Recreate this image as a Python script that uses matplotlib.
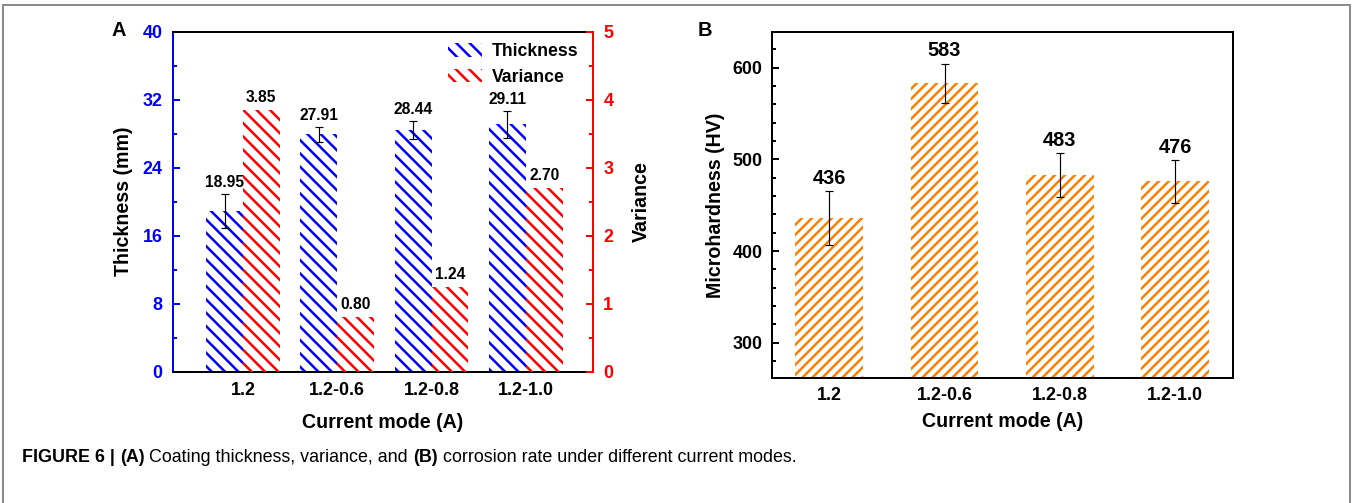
import matplotlib
matplotlib.use("Agg")
import matplotlib.pyplot as plt
import numpy as np
from matplotlib.ticker import MultipleLocator
from matplotlib.lines import Line2D

# ---------------- data ----------------
categories = ["1.2", "1.2-0.6", "1.2-0.8", "1.2-1.0"]
thickness = [18.95, 27.91, 28.44, 29.11]
thickness_err = [2.0, 0.9, 1.1, 1.6]
variance = [3.85, 0.80, 1.24, 2.70]
thickness_labels = ["18.95", "27.91", "28.44", "29.11"]
variance_labels = ["3.85", "0.80", "1.24", "2.70"]
hardness = [436, 583, 483, 476]
hardness_err = [29.5, 21.5, 24, 23.5]
hardness_labels = ["436", "583", "483", "476"]

caption_parts = [("FIGURE 6 | ", "bold"), ("(A)", "bold"),
                 (" Coating thickness, variance, and ", "normal"),
                 ("(B)", "bold"),
                 (" corrosion rate under different current modes.", "normal")]

# ---------------- style ----------------
DPI = 120
W, H = 1355, 503
plt.rcParams["font.family"] = ["Liberation Sans", "DejaVu Sans"]
plt.rcParams["font.weight"] = "bold"
plt.rcParams["hatch.linewidth"] = 1.5

BLUE = "#0000FF"
RED = "#FF0000"
ORANGE = "#FF8000"

fig = plt.figure(figsize=(W / DPI, H / DPI), dpi=DPI)

def ax_rect(x0, y0, x1, y1):
    return [x0 / W, 1 - y1 / H, (x1 - x0) / W, (y1 - y0) / H]

TICK_FS = 10.7
LAB_FS = 11.8
ANN_FS = 9.4

# ---------------- panel A ----------------
ax = fig.add_axes(ax_rect(172.7, 31.7, 593.3, 371.7))
ax2 = ax.twinx()
x = np.arange(len(categories))
bw = 0.39

ax.bar(x - bw / 2, thickness, bw, facecolor="none", edgecolor=BLUE,
       hatch="\\\\\\", linewidth=0, label="Thickness")
ax.errorbar(x - bw / 2, thickness, yerr=thickness_err, fmt="none",
            ecolor="black", elinewidth=0.7, capsize=2.3, capthick=0.7)
ax2.bar(x + bw / 2, variance, bw, facecolor="none", edgecolor=RED,
        hatch="\\\\\\", linewidth=0, label="Variance")

ax.set_xlim(-0.745, 3.715)
ax.set_ylim(0, 40)
ax2.set_ylim(0, 5)
ax.set_xticks(x)
ax.set_xticklabels(categories, fontsize=TICK_FS, fontweight="bold")
ax.tick_params(axis="x", length=0, pad=6)
ax.yaxis.set_major_locator(MultipleLocator(8))
ax.yaxis.set_minor_locator(MultipleLocator(4))
ax2.yaxis.set_major_locator(MultipleLocator(1))
ax2.yaxis.set_minor_locator(MultipleLocator(0.5))
ax.tick_params(axis="y", which="major", direction="in", length=4, width=1.2,
               colors=BLUE, labelsize=TICK_FS, pad=6)
ax.tick_params(axis="y", which="minor", direction="in", length=2.2, width=1.2,
               colors=BLUE)
ax2.tick_params(axis="y", which="major", direction="in", length=4, width=1.2,
                colors=RED, labelsize=TICK_FS, pad=6)
ax2.tick_params(axis="y", which="minor", direction="in", length=2.2, width=1.2,
                colors=RED)
for lab in ax.get_yticklabels() + ax2.get_yticklabels():
    lab.set_fontweight("bold")

for s in ["top", "bottom"]:
    ax.spines[s].set_linewidth(1.2)
    ax.spines[s].set_color("black")
    ax2.spines[s].set_visible(False)
ax.spines["left"].set_color(BLUE)
ax.spines["left"].set_linewidth(1.2)
ax.spines["right"].set_visible(False)
ax2.spines["left"].set_visible(False)
ax2.spines["right"].set_color(RED)
ax2.spines["right"].set_linewidth(1.2)

ax.set_ylabel("Thickness (mm)", fontsize=LAB_FS, fontweight="bold", labelpad=6)
ax2.set_ylabel("Variance", fontsize=LAB_FS, fontweight="bold", labelpad=11)
ax.set_xlabel("Current mode (A)", fontsize=LAB_FS, fontweight="bold", labelpad=8.5)

for xi, v, e, s in zip(x, thickness, thickness_err, thickness_labels):
    ax.annotate(s, (xi - bw / 2, v + e), xytext=(0, 2), textcoords="offset points",
                ha="center", va="bottom", fontsize=ANN_FS, fontweight="bold")
for xi, v, s in zip(x, variance, variance_labels):
    ax2.annotate(s, (xi + bw / 2, v), xytext=(0, 3), textcoords="offset points",
                 ha="center", va="bottom", fontsize=ANN_FS, fontweight="bold")

h1, l1 = ax.get_legend_handles_labels()
h2, l2 = ax2.get_legend_handles_labels()
ax2.legend(h1 + h2, l1 + l2, loc="upper right", bbox_to_anchor=(0.964, 0.966),
           frameon=False, handlelength=1.92, handleheight=0.8,
           handletextpad=0.56, labelspacing=0.47, borderpad=0, borderaxespad=0,
           prop={"weight": "bold", "size": 10.6})

fig.text(119 / W, 1 - 30 / H, "A", fontsize=12, fontweight="bold",
         ha="center", va="center")

# ---------------- panel B ----------------
bx = fig.add_axes(ax_rect(771.7, 31.7, 1232.7, 378))
bw2 = 0.587
bx.bar(x, hardness, bw2, facecolor="none", edgecolor=ORANGE, hatch="////",
       linewidth=0)
bx.errorbar(x, hardness, yerr=hardness_err, fmt="none", ecolor="black",
            elinewidth=0.7, capsize=2.3, capthick=0.7)
bx.set_xlim(-0.5, 3.5)
bx.set_ylim(261.5, 639.3)
bx.set_xticks(x)
bx.set_xticklabels(categories, fontsize=TICK_FS, fontweight="bold")
bx.tick_params(axis="x", length=0, pad=5.5)
bx.yaxis.set_major_locator(MultipleLocator(100))
bx.yaxis.set_minor_locator(MultipleLocator(20))
bx.tick_params(axis="y", which="major", direction="in", length=4, width=1.2,
               labelsize=TICK_FS, pad=5.5)
bx.tick_params(axis="y", which="minor", direction="in", length=2.2, width=1.2)
for lab in bx.get_yticklabels():
    lab.set_fontweight("bold")
for s in bx.spines.values():
    s.set_linewidth(1.2)
bx.set_ylabel("Microhardness (HV)", fontsize=LAB_FS, fontweight="bold", labelpad=4.6)
bx.set_xlabel("Current mode (A)", fontsize=LAB_FS, fontweight="bold", labelpad=4.5)
for xi, v, e, s in zip(x, hardness, hardness_err, hardness_labels):
    bx.annotate(s, (xi, v + e), xytext=(0, 2), textcoords="offset points",
                ha="center", va="bottom", fontsize=12, fontweight="bold")

fig.text(705 / W, 1 - 30 / H, "B", fontsize=12, fontweight="bold",
         ha="center", va="center")

# ---------------- caption ----------------
CAP_FS = 10.75
cap_texts = [fig.text(0, 0, txt, fontsize=CAP_FS, fontweight=wt, ha="left",
                      va="center_baseline") for txt, wt in caption_parts]
fig.canvas.draw()
r = fig.canvas.get_renderer()
xcur = 22
for t in cap_texts:
    t.set_position((xcur / W, 1 - 455 / H))
    xcur += t.get_window_extent(renderer=r).width

# ---------------- page border ----------------
gray = "#8c8c8c"
fig.add_artist(Line2D([3 / W, 3 / W], [0, 1 - 5 / H], color=gray, lw=1.2))
fig.add_artist(Line2D([3 / W, 1350 / W], [1 - 5 / H, 1 - 5 / H], color=gray, lw=1.2))
fig.add_artist(Line2D([1350 / W, 1350 / W], [0, 1 - 5 / H], color=gray, lw=1.2))

fig.savefig("out.png", dpi=DPI)
